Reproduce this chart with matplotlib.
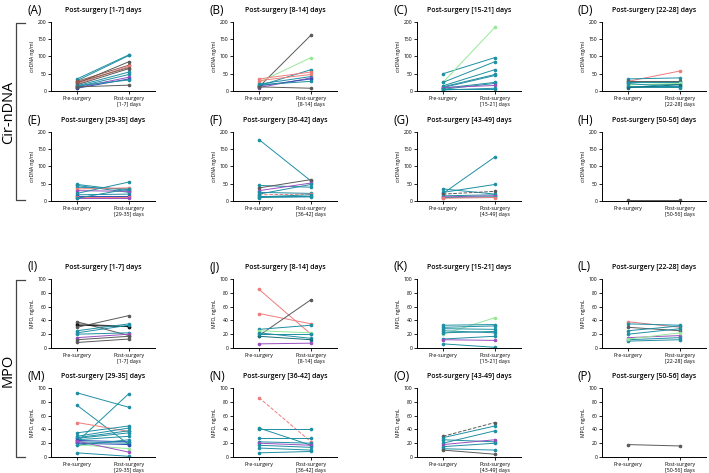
import matplotlib
matplotlib.use('Agg')
import matplotlib.pyplot as plt
from matplotlib.lines import Line2D

plt.rcParams['font.family'] = ['Open Sans', 'DejaVu Sans']

# colours
teal = '#1f8fa3'
dteal = '#156f7c'
gray = '#5a5a5a'
salmon = '#ef7b7b'
lgreen = '#96e896'
purple = '#9a4fc0'
blue = '#2e4fb5'
brown = '#8c5a50'
black = '#111111'

# ---- cirDNA panels (ng/ml) ----
A_pre = [35, 30, 22, 28, 20, 25, 18, 15, 12, 10, 8, 15, 12]
A_post = [105, 103, 85, 75, 72, 68, 65, 55, 48, 40, 35, 32, 17]
A_col = [teal, teal, gray, brown, salmon, brown, gray, teal, teal, purple, blue, teal, gray]

B_pre = [12, 25, 15, 35, 30, 20, 10, 15, 18, 12]
B_post = [162, 97, 62, 55, 48, 42, 38, 35, 28, 8]
B_col = [gray, lgreen, teal, salmon, salmon, teal, purple, blue, teal, gray]

C_pre = [50, 25, 25, 15, 12, 10, 8, 5, 10, 3, 5]
C_post = [97, 185, 85, 62, 48, 45, 25, 22, 16, 8, 5]
C_col = [teal, lgreen, teal, teal, teal, teal, teal, teal, purple, teal, teal]

D_pre = [28, 35, 30, 25, 20, 18, 15, 12, 10, 22]
D_post = [58, 38, 30, 25, 20, 22, 15, 12, 18, 10]
D_col = [salmon, teal, gray, teal, teal, lgreen, teal, teal, dteal, teal]

E_pre = [48, 45, 40, 35, 30, 22, 18, 15, 12, 10, 8]
E_post = [30, 25, 35, 38, 28, 55, 20, 15, 12, 10, 35]
E_col = [teal, teal, teal, salmon, purple, teal, teal, blue, salmon, purple, teal]

F_pre = [178, 45, 38, 30, 25, 18, 15, 12, 10, 20]
F_post = [58, 40, 62, 52, 22, 20, 15, 18, 12, 48]
F_col = [teal, teal, gray, purple, teal, salmon, teal, teal, teal, teal]
F_dash = [5]

G_pre = [22, 25, 35, 20, 15, 12, 10, 8]
G_post = [128, 48, 20, 28, 18, 15, 12, 10]
G_col = [teal, teal, teal, gray, teal, purple, teal, salmon]
G_dash = [3]

H_pre = [2]
H_post = [2]
H_col = [gray]

# ---- MPO panels (ng/mL) ----
I_pre = [38, 35, 33, 30, 25, 22, 20, 15, 12, 8]
I_post = [18, 31, 31, 47, 35, 33, 22, 20, 17, 13]
I_col = [gray, gray, black, gray, teal, teal, teal, purple, gray, gray]

J_pre = [85, 50, 18, 27, 25, 22, 17, 6, 20]
J_post = [20, 35, 70, 33, 22, 14, 12, 7, 20]
J_col = [salmon, salmon, gray, teal, lgreen, teal, dteal, purple, teal]

K_pre = [20, 33, 30, 28, 25, 22, 13, 12, 6]
K_post = [44, 34, 32, 27, 22, 24, 17, 11, 1]
K_col = [lgreen, teal, teal, teal, teal, teal, teal, purple, teal]

L_pre = [38, 35, 30, 25, 20, 15, 12, 10, 13]
L_post = [30, 33, 25, 32, 28, 18, 15, 12, 22]
L_col = [salmon, teal, gray, teal, teal, purple, teal, teal, lgreen]

M_pre = [93, 75, 22, 50, 35, 30, 28, 27, 25, 24, 22, 20, 18, 23, 17, 6]
M_post = [72, 18, 92, 37, 45, 42, 38, 35, 30, 22, 20, 18, 12, 7, 25, 1]
M_col = [teal, teal, teal, salmon, teal, teal, teal, teal, teal, blue, teal, blue,
         lgreen, purple, teal, teal]

N_pre = [86, 42, 40, 27, 22, 20, 17, 13, 6]
N_post = [22, 17, 40, 27, 20, 17, 14, 10, 8]
N_col = [salmon, teal, teal, teal, teal, purple, teal, teal, teal]
N_dash = [0]

O_pre = [30, 28, 25, 20, 18, 15, 12, 10]
O_post = [50, 45, 22, 38, 25, 20, 10, 4]
O_col = [gray, teal, teal, teal, purple, teal, teal, gray]
O_dash = [0]

P_pre = [18]
P_post = [16]
P_col = [gray]

periods = ['1-7', '8-14', '15-21', '22-28', '29-35', '36-42', '43-49', '50-56']

panels = [
    ('A', A_pre, A_post, A_col, []), ('B', B_pre, B_post, B_col, []),
    ('C', C_pre, C_post, C_col, []), ('D', D_pre, D_post, D_col, []),
    ('E', E_pre, E_post, E_col, []), ('F', F_pre, F_post, F_col, F_dash),
    ('G', G_pre, G_post, G_col, G_dash), ('H', H_pre, H_post, H_col, []),
    ('I', I_pre, I_post, I_col, []), ('J', J_pre, J_post, J_col, []),
    ('K', K_pre, K_post, K_col, []), ('L', L_pre, L_post, L_col, []),
    ('M', M_pre, M_post, M_col, []), ('N', N_pre, N_post, N_col, N_dash),
    ('O', O_pre, O_post, O_col, O_dash), ('P', P_pre, P_post, P_col, []),
]

fig = plt.figure(figsize=(7.09, 4.73), dpi=100)

W, H = 709.0, 473.0
col_left = [51, 233, 417, 602]
row_bottom = [91, 201, 348, 457]   # pixel y of the x axis (from top)
ax_w = 104
ax_h = 69

for k, (lab, pre, post, cols, dash) in enumerate(panels):
    r, c = divmod(k, 4)
    left = col_left[c] / W
    bottom = 1 - row_bottom[r] / H
    ax = fig.add_axes([left, bottom, ax_w / W, ax_h / H])
    for i in range(len(pre)):
        ls = '--' if i in dash else '-'
        ax.plot([0, 1], [pre[i], post[i]], color=cols[i], lw=0.7, ls=ls,
                marker='o', ms=1.6, clip_on=False)
    ax.set_xlim(-0.5, 1.5)
    if r < 2:
        ax.set_ylim(0, 200)
        ax.set_yticks([0, 50, 100, 150, 200])
        ax.set_ylabel('cirDNA ng/ml', fontsize=3.6, labelpad=2)
    else:
        ax.set_ylim(0, 100)
        ax.set_yticks([0, 20, 40, 60, 80, 100])
        ax.set_ylabel('MPO, ng/mL', fontsize=3.6, labelpad=2)
    ax.set_xticks([0, 1])
    ax.set_xticklabels(['Pre-surgery', 'Post-surgery\n[%s] days' % periods[k % 8]],
                       fontsize=3.8)
    ax.tick_params(axis='both', length=2, width=0.6, pad=1.5, labelsize=3.6)
    ax.tick_params(axis='x', labelsize=3.8)
    ax.spines['top'].set_visible(False)
    ax.spines['right'].set_visible(False)
    ax.spines['left'].set_linewidth(0.7)
    ax.spines['bottom'].set_linewidth(0.7)
    ax.set_title('Post-surgery [%s] days' % periods[k % 8], fontsize=5,
                 fontweight='semibold', pad=7)
    # panel letter
    fig.text((col_left[c] - 24) / W, 1 - (row_bottom[r] - ax_h - 12) / H,
             '(%s)' % lab, fontsize=8.5, ha='left', va='center')

# big group labels with brackets
fig.text(1 / W, 1 - 112 / H, 'Cir-nDNA', rotation=90, fontsize=10.5,
         ha='left', va='center')
fig.text(1 / W, 1 - 370 / H, 'MPO', rotation=90, fontsize=10.5,
         ha='left', va='center')
for y0, y1 in [(23, 200), (280, 457)]:
    xs = [25 / W, 16 / W, 16 / W, 25 / W]
    ys = [1 - y0 / H, 1 - y0 / H, 1 - y1 / H, 1 - y1 / H]
    fig.add_artist(Line2D(xs, ys, color='#444444', lw=0.9))

fig.savefig('out.png', dpi=100)
